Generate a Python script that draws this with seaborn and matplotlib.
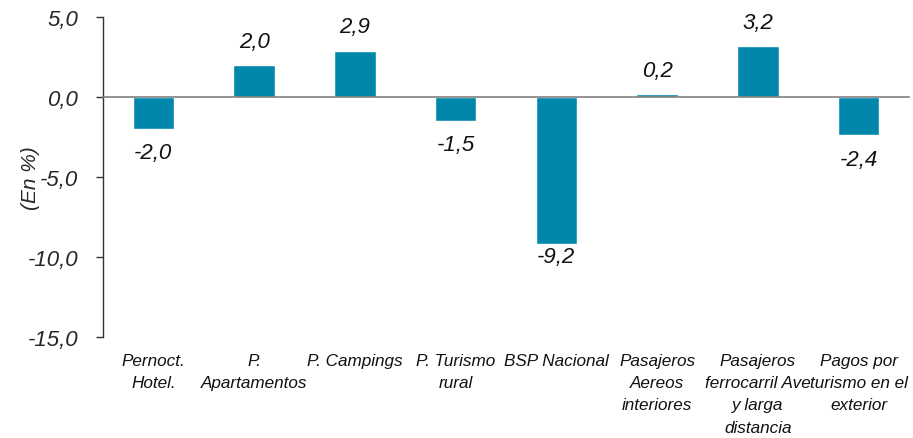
import matplotlib
matplotlib.use("Agg")
import matplotlib.pyplot as plt
import seaborn as sns
import pandas as pd

categories = [
    "Pernoct.\nHotel.",
    "P.\nApartamentos",
    "P. Campings",
    "P. Turismo\nrural",
    "BSP Nacional",
    "Pasajeros\nAereos\ninteriores",
    "Pasajeros\nferrocarril Ave\ny larga\ndistancia",
    "Pagos por\nturismo en el\nexterior",
]
values = [-2.0, 2.0, 2.9, -1.5, -9.2, 0.2, 3.2, -2.4]
y_ticks = [5.0, 0.0, -5.0, -10.0, -15.0]

sns.set_style("white")
plt.rcParams["font.family"] = ["Liberation Sans", "DejaVu Sans"]

df = pd.DataFrame({"cat": categories, "val": values})

fig = plt.figure(figsize=(9.13, 4.39), dpi=100)
ax = fig.add_axes([103 / 913, 1 - 338 / 439, 806 / 913, 320 / 439])

bar_color = "#0187AB"
sns.barplot(data=df, x="cat", y="val", order=categories, color=bar_color,
            width=0.41, saturation=1, ax=ax, errorbar=None)

ax.set_xlim(-0.5, len(categories) - 0.5)
ax.set_ylim(-15, 5)

# spines
for s in ["top", "right"]:
    ax.spines[s].set_visible(False)
ax.spines["left"].set_color("#333333")
ax.spines["left"].set_linewidth(1.0)
ax.spines["bottom"].set_position(("data", 0))
ax.spines["bottom"].set_color("#808080")
ax.spines["bottom"].set_linewidth(1.2)

# x ticks at category boundaries, no labels
bounds = [i + 0.5 for i in range(len(categories))]
ax.set_xticks(bounds)
ax.set_xticklabels([""] * len(bounds))
ax.tick_params(axis="x", direction="out", length=5, width=1, color="#555555")
ax.set_xlabel("")

# y ticks
ax.set_yticks(y_ticks)
ax.set_yticklabels([f"{t:.1f}".replace(".", ",") for t in y_ticks],
                   fontsize=16, style="italic")
ax.tick_params(axis="y", direction="out", length=5, width=1, color="#333333", pad=13,
               left=True)
ax.set_ylabel("(En %)", fontsize=15, style="italic")
ax.yaxis.set_label_coords(-0.078, 0.5)

# category labels below plot
for i, c in enumerate(categories):
    ax.text(i, -0.05, c, transform=ax.get_xaxis_transform(), ha="center", va="top",
            fontsize=12.3, style="italic", linespacing=1.6, color="#111111")

# data labels
for i, v in enumerate(values):
    txt = f"{v:.1f}".replace(".", ",")
    off = 17 if v >= 0 else -17
    if v < -8:
        off = -8.5
    ax.annotate(txt, (i, v), xytext=(0, off), textcoords="offset points",
                ha="center", va="center", fontsize=16, style="italic", color="#111111")

fig.savefig("out.png", dpi=100)
